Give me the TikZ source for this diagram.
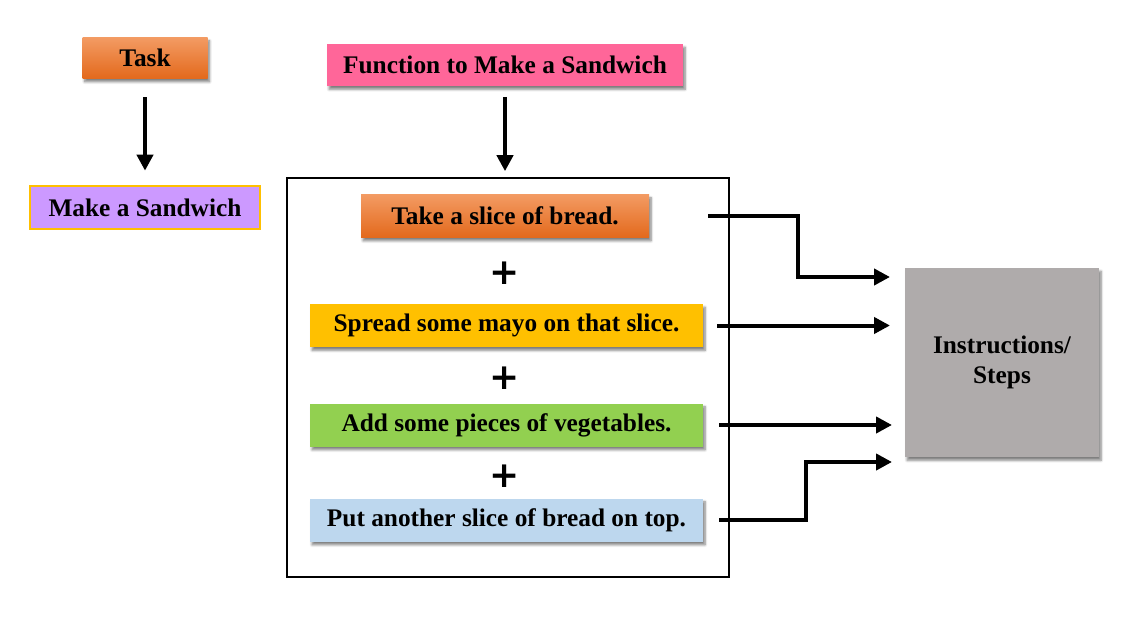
\documentclass[tikz,border=0pt]{standalone}
\usepackage{fontspec}
\setmainfont{Liberation Serif}
\newfontfamily\plusfont{DejaVu Sans}
\usetikzlibrary{positioning,shadows.blur,arrows.meta}

\definecolor{orangetop}{HTML}{F39B63}
\definecolor{orangemid}{HTML}{F07D2E}
\definecolor{orangebot}{HTML}{E3691C}
\definecolor{lilac}{HTML}{CC99FF}
\definecolor{gold}{HTML}{FFC000}
\definecolor{pink}{HTML}{FF6699}
\definecolor{leaf}{HTML}{92D050}
\definecolor{sky}{HTML}{BDD7EE}
\definecolor{stone}{HTML}{AFABAB}

\begin{document}
\begin{tikzpicture}[
  x=0.75pt, y=-0.75pt,
  box/.style={rectangle, inner sep=0pt, align=center, font=\fontsize{19}{22}\selectfont\bfseries},
  shadowbox/.style={box, blur shadow={shadow xshift=1.5pt, shadow yshift=-2.5pt, shadow blur steps=6, shadow opacity=50}},
  orangebox/.style={shadowbox, top color=orangetop, middle color=orangemid, bottom color=orangebot},
  stepbox/.style={shadowbox, minimum width=294.75pt, minimum height=32.25pt},
  plus/.style={font=\plusfont\fontsize{27}{27}\selectfont\bfseries, inner sep=0pt},
  arrow/.style={-{Triangle[length=12pt, width=12pt]}, line width=3pt}
]
\useasboundingbox (0,0) rectangle (1138,620);

% Left column - Task
\node[orangebox, minimum width=93.75pt, minimum height=30.75pt] (task) at (145,58) {Task};
\node[box, fill=lilac, draw=gold, line width=1pt, minimum width=172.5pt, minimum height=32.25pt] (make) at (145,207.5) {Make a Sandwich};

% Middle column - Function and its steps
\node[shadowbox, fill=pink, minimum width=267pt, minimum height=31.5pt] (function) at (505,65) {Function to Make a Sandwich};
\node[draw, line width=1.2pt, minimum width=331.5pt, minimum height=299.25pt] (frame) at (508,377.5) {};

\node[orangebox, minimum width=216pt, minimum height=32.25pt] (take) at (505,216) {Take a slice of bread.};
\node[stepbox, fill=gold] (spread) at (506.5,325.5) {Spread some mayo on that slice.};
\node[stepbox, fill=leaf] (add) at (506.5,425) {Add some pieces of vegetables.};
\node[stepbox, fill=sky] (put) at (506.5,520) {Put another slice of bread on top.};

\node[plus] (plus-1) at (505,273) {+};
\node[plus] (plus-2) at (505,378) {+};
\node[plus] (plus-3) at (505,476) {+};

% Right column - Instructions
\node[shadowbox, fill=stone, minimum width=145.5pt, minimum height=141.75pt] (instr) at (1002,362.5) {Instructions/\\Steps};

\coordinate (in-1) at (890,277);
\coordinate (in-2) at (890,325.5);
\coordinate (in-3) at (892,425);
\coordinate (in-4) at (892,462);

% Arrows going down
\draw[arrow] ([yshift=-14pt]task.south) -- ([yshift=11pt]make.north);
\draw[arrow] ([yshift=-8pt]function.south) -- ([yshift=4.5pt]frame.north -| function.south);

% Arrows to Instructions
\draw[arrow] ([xshift=44.25pt]take.east) -- (798,216) |- (in-1);
\draw[arrow] ([xshift=10.5pt]spread.east) -- (in-2);
\draw[arrow] ([xshift=12pt]add.east) -- (in-3);
\draw[arrow] ([xshift=12pt]put.east) -- (806,520) |- (in-4);

\end{tikzpicture}
\end{document}
